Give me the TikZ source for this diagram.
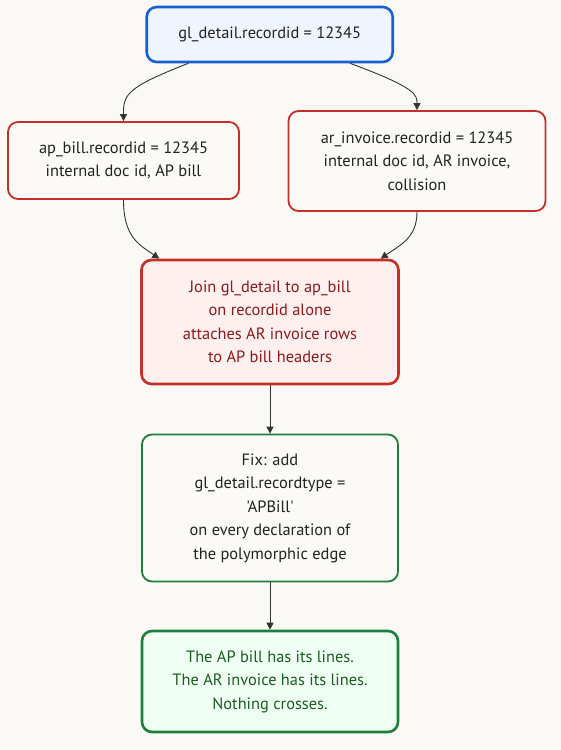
\documentclass[tikz,border=0pt]{standalone}
\usepackage{fontspec}
\newfontfamily\ptsans{PT Sans}
\usetikzlibrary{arrows.meta}
\definecolor{bg}{HTML}{FAF9F6}
\definecolor{plainfill}{HTML}{FBFAF7}
\definecolor{blueline}{HTML}{1A5FD0}
\definecolor{bluefill}{HTML}{EEF5FF}
\definecolor{redline}{HTML}{C62F28}
\definecolor{redfill}{HTML}{FFF0F0}
\definecolor{redtext}{HTML}{8B1A1A}
\definecolor{greenline}{HTML}{1E7E3E}
\definecolor{greenfill}{HTML}{F0FFF4}
\definecolor{greentext}{HTML}{1B5E20}
\definecolor{edgecol}{HTML}{333333}
\definecolor{txt}{HTML}{222222}
\begin{document}
\begin{tikzpicture}[x=1pt,y=-1pt,
  box/.style={rounded corners=10pt, align=center, inner sep=0pt, text=txt,
    font=\ptsans\fontsize{16.4}{23.5}\selectfont},
  bluebox/.style={box, draw=blueline, fill=bluefill, line width=2.6pt},
  redbox/.style={box, draw=redline, fill=plainfill, line width=1.8pt},
  alertbox/.style={box, draw=redline, fill=redfill, line width=2.6pt, text=redtext},
  greenbox/.style={box, draw=greenline, fill=plainfill, line width=1.8pt},
  okbox/.style={box, draw=greenline, fill=greenfill, line width=2.6pt, text=greentext},
  conn/.style={draw=edgecol, line width=0.9pt, -{Triangle[length=7pt,width=7pt]}}
]
\fill[bg] (0,0) rectangle (561,750);
\useasboundingbox (0,0) rectangle (561,750);

\node[bluebox, minimum width=246pt, minimum height=55pt] (top) at (269.7,34.5) {gl\_detail.recordid = 12345};
\node[redbox, minimum width=231pt, minimum height=77pt] (ap) at (123.5,160.5) {ap\_bill.recordid = 12345\\internal doc id, AP bill};
\node[redbox, minimum width=257pt, minimum height=100pt] (ar) at (417,161) {ar\_invoice.recordid = 12345\\internal doc id, AR invoice,\\collision};
\node[alertbox, minimum width=257pt, minimum height=124pt] (join) at (270,322) {Join gl\_detail to ap\_bill\\on recordid alone\\attaches AR invoice rows\\to AP bill headers};
\node[greenbox, minimum width=256pt, minimum height=147pt] (fix) at (270,508) {Fix: add\\gl\_detail.recordtype =\\'APBill'\\on every declaration of\\the polymorphic edge};
\node[okbox, minimum width=256pt, minimum height=101pt] (ok) at (270,681.5) {The AP bill has its lines.\\The AR invoice has its lines.\\Nothing crosses.};

\draw[conn] ([xshift=43pt]top.south west) .. controls (125,88) and (123.5,95) .. (ap.north);
\draw[conn] ([xshift=-44pt]top.south east) .. controls (417,88) and (417,95) .. (ar.north);
\draw[conn] (ap.south) .. controls (123.5,238) and (140,245) .. ([xshift=19pt]join.north west);
\draw[conn] (ar.south) .. controls (417,238) and (400,245) .. ([xshift=-19pt]join.north east);
\draw[conn] (join.south) -- (fix.north);
\draw[conn] (fix.south) -- (ok.north);
\end{tikzpicture}
\end{document}
